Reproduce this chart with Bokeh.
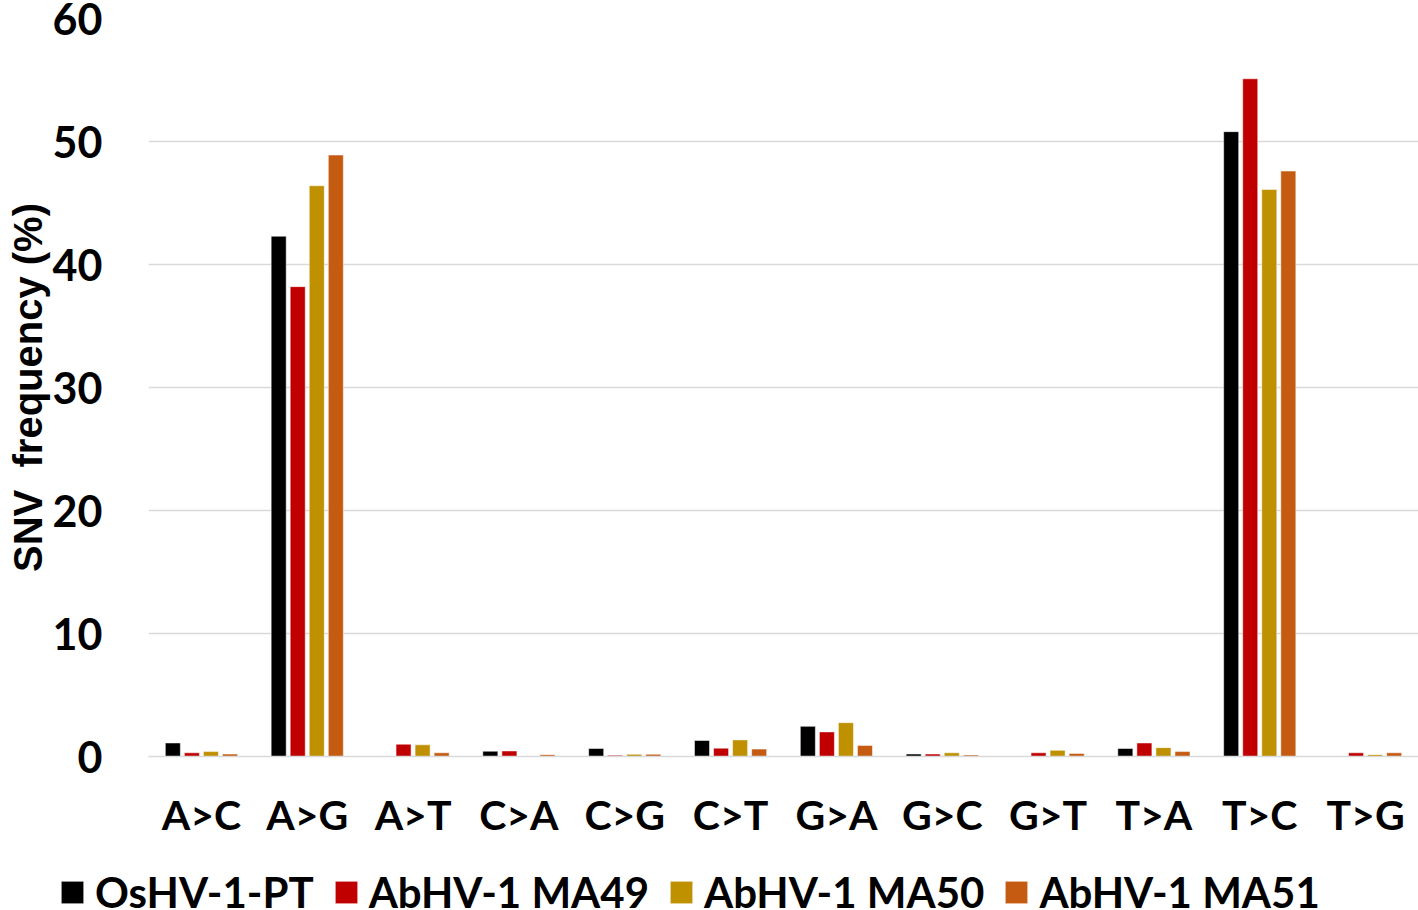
from bokeh.plotting import figure
from bokeh.layouts import column
from bokeh.models import ColumnDataSource, FactorRange, Legend, LegendItem, FixedTicker
from bokeh.transform import dodge
from bokeh.embed import file_html
from bokeh.resources import INLINE

categories = ["A>C", "A>G", "A>T", "C>A", "C>G", "C>T", "G>A", "G>C", "G>T", "T>A", "T>C", "T>G"]
series_names = ["OsHV-1-PT", "AbHV-1 MA49", "AbHV-1 MA50", "AbHV-1 MA51"]
oshv_pt = [1.1, 42.3, 0.0, 0.43, 0.65, 1.3, 2.45, 0.2, 0.0, 0.65, 50.8, 0.0]
abhv_ma49 = [0.3, 38.2, 1.0, 0.45, 0.1, 0.68, 2.0, 0.2, 0.3, 1.1, 55.1, 0.3]
abhv_ma50 = [0.4, 46.4, 0.95, 0.0, 0.18, 1.35, 2.75, 0.3, 0.5, 0.72, 46.1, 0.15]
abhv_ma51 = [0.2, 48.9, 0.3, 0.15, 0.18, 0.6, 0.9, 0.12, 0.25, 0.4, 47.6, 0.3]
y_ticks = [0, 10, 20, 30, 40, 50, 60]

colors = ["#000000", "#C00000", "#BF9000", "#C55A11"]
keys = ["pt", "ma49", "ma50", "ma51"]
offsets = [-0.27, -0.09, 0.09, 0.27]

source = ColumnDataSource(data=dict(cat=categories, pt=oshv_pt, ma49=abhv_ma49,
                                    ma50=abhv_ma50, ma51=abhv_ma51))

FONT = "Lato"

p = figure(x_range=FactorRange(*categories, range_padding=0), y_range=(0, 60),
           frame_width=1270, frame_height=738, output_backend="svg",
           toolbar_location=None, min_border_left=148, min_border_right=0,
           min_border_top=18, min_border_bottom=100)

renderers = []
for k, c, off in zip(keys, colors, offsets):
    r = p.vbar(x=dodge("cat", off, range=p.x_range), top=k, width=0.142,
               source=source, fill_color=c, line_color="white", line_alpha=0.5,
               line_width=1)
    renderers.append(r)

p.outline_line_color = None
p.background_fill_color = "white"
p.border_fill_color = "white"

p.xgrid.grid_line_color = None
p.ygrid.grid_line_color = "#D9D9D9"
p.ygrid.grid_line_width = 1.5
p.yaxis.ticker = FixedTicker(ticks=y_ticks)

p.yaxis.axis_line_color = None
p.yaxis.major_tick_line_color = None
p.yaxis.minor_tick_line_color = None
p.yaxis.major_tick_out = 0
p.yaxis.major_label_standoff = 46
p.yaxis.major_label_text_font = FONT
p.yaxis.major_label_text_font_style = "bold"
p.yaxis.major_label_text_font_size = "43px"
p.yaxis.major_label_text_color = "black"
p.yaxis.axis_label = "SNV\u00a0 frequency (%)"
p.yaxis.axis_label_text_font = "Liberation Sans"
p.yaxis.axis_label_text_font_style = "bold"
p.yaxis.axis_label_text_font_size = "40px"
p.yaxis.axis_label_text_color = "black"
p.yaxis.axis_label_standoff = 0

p.xaxis.axis_line_color = "#D9D9D9"
p.xaxis.axis_line_width = 1.5
p.xaxis.major_tick_line_color = None
p.xaxis.minor_tick_line_color = None
p.xaxis.major_tick_out = 0
p.xaxis.major_label_standoff = 33
p.xaxis.major_label_text_font = FONT
p.xaxis.major_label_text_font_style = "bold"
p.xaxis.major_label_text_font_size = "41px"
p.xaxis.major_label_text_color = "black"

# legend strip below the chart; its frame is aligned with the chart frame
# (1270 px wide), so the strip is shifted left to make room for the legend
lg = figure(width=1418, height=74, output_backend="svg", toolbar_location=None,
            min_border=0, x_axis_type=None, y_axis_type=None,
            x_range=(0, 10), y_range=(0, 10))
lg.grid.visible = False
lg.outline_line_color = None
lg.background_fill_color = "white"
lg.border_fill_color = "white"
lg.styles = {"margin-left": "-92px"}
swatches = [lg.vbar(x=[-100], top=[1], width=0.1, fill_color=c, line_color="white",
                    line_alpha=0.5) for c in colors]
legend = Legend(items=[LegendItem(label=n, renderers=[r]) for n, r in zip(series_names, swatches)],
                orientation="horizontal", location=(2, 13))
legend.border_line_color = None
legend.background_fill_alpha = 0
legend.glyph_width = 28
legend.glyph_height = 28
legend.label_standoff = 9
legend.spacing = 18
legend.padding = 0
legend.margin = 0
legend.label_text_font = FONT
legend.label_text_font_style = "bold"
legend.label_text_font_size = "42px"
legend.label_text_color = "black"
lg.add_layout(legend, "center")

layout = column(p, lg, spacing=0)
open("out.html", "w").write(file_html(layout, INLINE))
